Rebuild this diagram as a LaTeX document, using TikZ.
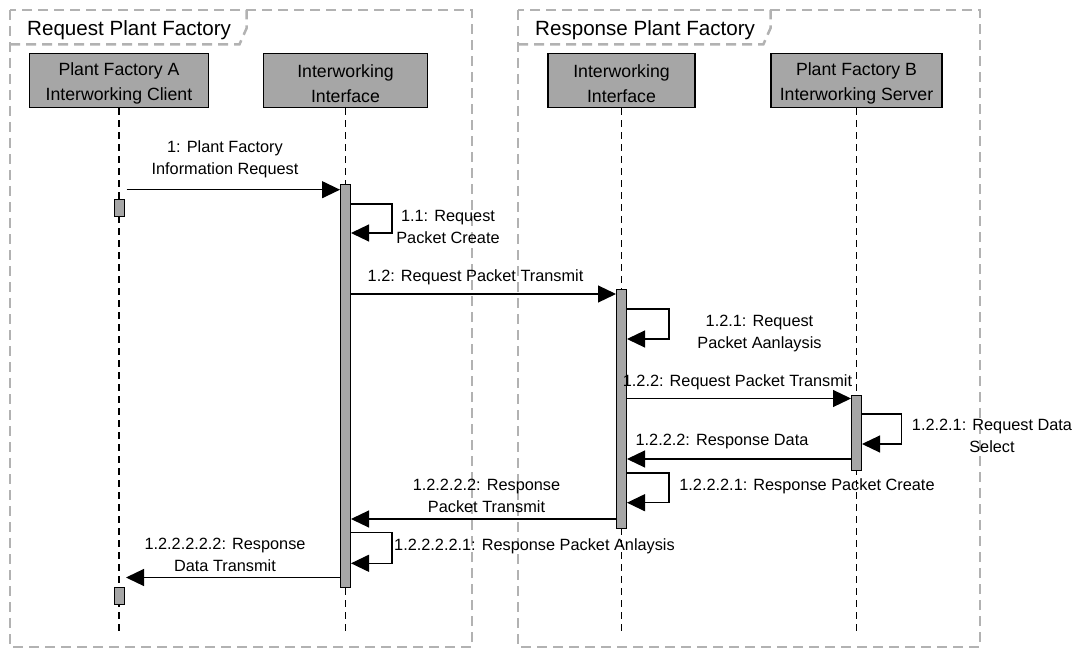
\documentclass[tikz,border=0pt]{standalone}
\usepackage{fontspec}
\setmainfont{Liberation Sans}
\usetikzlibrary{arrows.meta}
\definecolor{boxgray}{RGB}{166,166,166}
\definecolor{framegray}{RGB}{178,178,178}
\newcommand{\headstrut}{\rule{0pt}{19pt}}
\begin{document}
\begin{tikzpicture}[x=1pt,y=-1pt,
  frame/.style={draw=framegray, line width=2.5pt, dash pattern=on 10pt off 6pt},
  head/.style={draw=black, line width=1.2pt, fill=boxgray, minimum height=54.4pt, inner sep=0pt, align=center, font=\fontsize{17.7}{25}\selectfont},
  act/.style={draw=black, line width=1pt, fill=boxgray, minimum width=10pt, inner sep=0pt},
  life/.style={line width=1.1pt, dash pattern=on 7pt off 5pt},
  msg/.style={line width=1.2pt, -{Triangle[length=18pt,width=17pt]}},
  lbl/.style={align=center, anchor=base, font=\fontsize{16.3}{22}\selectfont, inner sep=0pt},
  ttl/.style={anchor=base west, font=\fontsize{20.6}{24}\selectfont, inner sep=0pt}]
\path[use as bounding box] (0,0) rectangle (1082,650);
% frames
\draw[frame] (10,10) rectangle (472,647);
\draw[frame] (10,44.5) -- (239.4,44.5) -- (246.7,28) -- (246.7,10);
\node[ttl] (t1) at (27,36) {Request Plant Factory};
\draw[frame] (518,10) rectangle (980,647);
\draw[frame] (518,44.5) -- (763.3,44.5) -- (770.6,28) -- (770.6,10);
\node[ttl] (t2) at (535,36) {Response Plant Factory};
% heads
\node[head, minimum width=179pt] (a) at (119,80.5) {\headstrut Plant Factory A\\Interworking Client};
\node[head, minimum width=164pt] (i1) at (345.5,80.5) {\headstrut Interworking\\Interface};
\node[head, minimum width=147pt] (i2) at (621.5,80.5) {\headstrut Interworking\\Interface};
\node[head, minimum width=171pt] (b) at (856.5,80.5) {\headstrut Plant Factory B\\Interworking Server};
% lifelines
\coordinate (ae) at (119,636);
\coordinate (i1e) at (345.5,636);
\coordinate (i2e) at (621.5,636);
\coordinate (be) at (856.5,636);
\draw[life] (a.south) -- (ae);
\draw[life] (i1.south) -- (i1e);
\draw[life] (i2.south) -- (i2e);
\draw[life] (b.south) -- (be);
% activations
\node[act, minimum height=17.4pt] (aa1) at (119,208) {};
\node[act, minimum height=402pt] (x1) at (345.5,386) {};
\node[act, minimum height=238.7pt] (x2) at (621.5,408.7) {};
\node[act, minimum height=74.7pt] (xb) at (856.5,433.3) {};
\node[act, minimum height=16.6pt] (aa2) at (119,596) {};
% messages
\coordinate (m1s) at (126.7,189.7);
\draw[msg] (m1s) -- (m1s -| x1.west);
\coordinate (l11a) at (392,204); \coordinate (l11b) at (392,233);
\draw[msg] (x1.east |- l11a) -- (l11a) -- (l11b) -- (x1.east |- l11b);
\coordinate (m12) at (480,294);
\draw[msg] (x1.east |- m12) -- (x2.west |- m12);
\coordinate (l121a) at (669,309); \coordinate (l121b) at (669,339);
\draw[msg] (x2.east |- l121a) -- (l121a) -- (l121b) -- (x2.east |- l121b);
\coordinate (m122) at (740,398.5);
\draw[msg] (x2.east |- m122) -- (xb.west |- m122);
\coordinate (l1221a) at (901.7,414); \coordinate (l1221b) at (901.7,444);
\draw[msg] (xb.east |- l1221a) -- (l1221a) -- (l1221b) -- (xb.east |- l1221b);
\coordinate (m1222) at (740,459);
\draw[msg] (xb.west |- m1222) -- (x2.east |- m1222);
\coordinate (l12221a) at (669,473); \coordinate (l12221b) at (669,502.7);
\draw[msg] (x2.east |- l12221a) -- (l12221a) -- (l12221b) -- (x2.east |- l12221b);
\coordinate (m12222) at (480,519);
\draw[msg] (x2.west |- m12222) -- (x1.east |- m12222);
\coordinate (l122221a) at (392,532.7); \coordinate (l122221b) at (392,563.3);
\draw[msg] (x1.east |- l122221a) -- (l122221a) -- (l122221b) -- (x1.east |- l122221b);
\coordinate (m122222e) at (126,577.5);
\draw[msg] (x1.west |- m122222e) -- (m122222e);
% labels (base anchor = baseline of the last line)
\node[lbl] (t_1) at (225,175) {1: Plant Factory\\Information Request};
\node[lbl] (t_11) at (448,243) {1.1: Request\\Packet Create};
\node[lbl] (t_12) at (475.5,281.7) {1.2: Request Packet Transmit};
\node[lbl] (t_121) at (759.5,348) {1.2.1: Request\\Packet Aanlaysis};
\node[lbl] (t_122) at (737.5,386) {1.2.2: Request Packet Transmit};
\node[lbl] (t_1221) at (992,452.5) {1.2.2.1: Request Data\\Select};
\node[lbl] (t_1222) at (722,445.7) {1.2.2.2: Response Data};
\node[lbl] (t_12221) at (807,490.7) {1.2.2.2.1: Response Packet Create};
\node[lbl] (t_12222) at (486.5,512.5) {1.2.2.2.2: Response\\Packet Transmit};
\node[lbl] (t_122221) at (534.5,550) {1.2.2.2.2.1: Response Packet Anlaysis};
\node[lbl] (t_122222) at (225,571.7) {1.2.2.2.2.2: Response\\Data Transmit};
\end{tikzpicture}
\end{document}
